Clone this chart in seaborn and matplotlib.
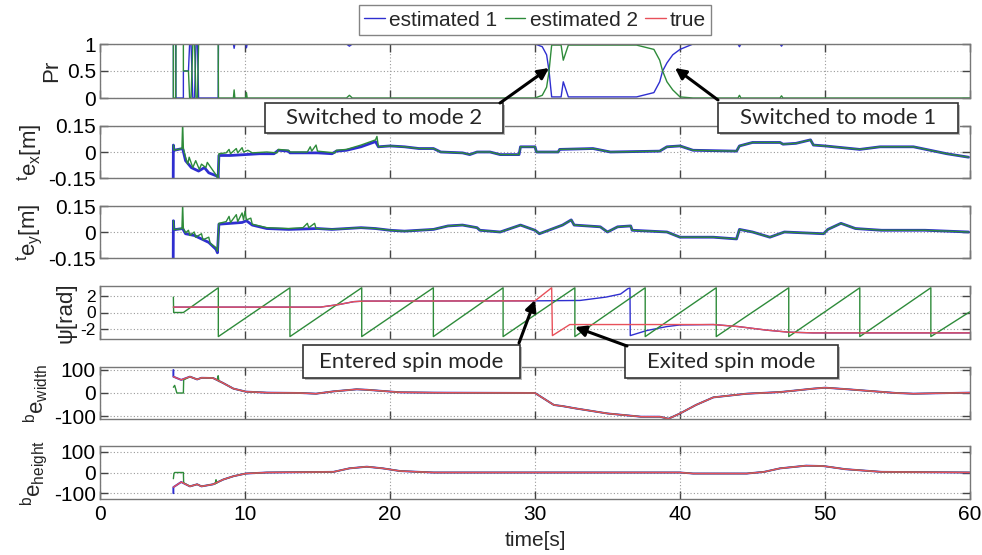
import matplotlib
matplotlib.use("Agg")
import matplotlib.pyplot as plt
from matplotlib.patches import Rectangle, FancyArrowPatch
from matplotlib.lines import Line2D
import seaborn as sns

BLUE = "#2f2fd0"
GREEN = "#2e8b3a"
RED = "#e8505a"

# --- mode probability
pr_t = [5.06, 5.06, 5.22, 5.24, 5.75, 5.75, 6.10, 6.18, 6.28, 6.40, 6.52, 6.62, 6.72, 6.80, 8.15, 8.17,
        9.20, 9.25, 9.30, 10.05, 10.10, 10.15, 17.0, 17.2, 17.4,
        30.0, 30.5, 30.8, 30.97, 31.08, 31.15, 31.8, 31.95, 32.3, 37.0, 38.2, 38.6, 38.8, 39.1, 39.5, 40.0, 40.9,
        44.0, 44.1, 44.2, 46.9, 47.0, 47.1, 60.0]
pr_est1 = [0, 1, 1, 0, 0, 0.5, 0.5, 1, 1, 0, 0, 1, 1, 0, 0, 1,
           1, 0.92, 1, 1, 0.93, 1, 1, 0.96, 1,
           1, 0.95, 0.8, 0.5, 0.2, 0.02, 0.02, 0.3, 0.02, 0.02, 0.1, 0.3, 0.5, 0.65, 0.8, 0.9, 1.0,
           1, 0.95, 1, 1, 0.96, 1, 1]
pr_est2 = [1, 0, 0, 1, 1, 0.5, 0.5, 0, 0, 1, 1, 0, 0, 1, 1, 0,
           0, 0.15, 0, 0, 0.1, 0, 0, 0.05, 0,
           0, 0.05, 0.2, 0.5, 0.8, 0.98, 0.98, 0.7, 0.98, 0.98, 0.9, 0.7, 0.5, 0.3, 0.15, 0.02, 0.0,
           0, 0.05, 0, 0, 0.04, 0, 0]

# --- te_x
tex_early1_t = [5.05, 5.06, 5.1, 5.7, 5.9, 6.3, 6.8, 7.2, 7.5, 8.1, 8.15, 8.2, 9.0, 10.0, 11.0, 12.0,
                12.3, 13.0, 13.1, 15.0, 16.0, 16.3, 17.0, 18.0, 19.0]
tex_early1_v = [-0.15, 0.04, 0.01, 0.02, -0.05, -0.09, -0.11, -0.09, -0.12, -0.14, -0.15, -0.02, -0.02,
                -0.015, -0.01, -0.01, 0.01, 0.005, -0.005, -0.005, -0.01, 0.005, 0.01, 0.03, 0.06]
tex_early2_t = [5.06, 5.1, 5.65, 5.7, 5.75, 5.9, 6.05, 6.15, 6.4, 6.6, 6.85, 7.0, 7.3, 7.4, 7.9, 8.15,
                8.2, 8.7, 8.9, 9.0, 9.4, 9.5, 9.8, 9.9, 10.2, 10.5, 11.5, 12.2, 12.3, 13.0, 13.1, 14.3,
                14.5, 14.6, 14.9, 15.0, 16.2, 16.3, 17.0, 18.0, 19.0, 19.1]
tex_early2_v = [0.04, 0.01, 0.02, 0.17, 0.02, -0.03, -0.07, -0.03, -0.09, -0.05, -0.1, -0.07, -0.09,
                -0.06, -0.12, -0.15, -0.01, -0.005, 0.015, -0.01, 0.02, -0.005, 0.025, 0.0, 0.01,
                -0.005, 0.0, -0.005, 0.015, 0.01, 0.0, 0.0, 0.03, 0.005, 0.04, 0.005, -0.005, 0.01,
                0.015, 0.04, 0.07, 0.09]
tex_late_t = [19.2, 20.0, 21.0, 22.0, 23.0, 23.5, 25.0, 25.5, 26.0, 26.9, 27.6, 28.9, 29.0, 30.0, 30.1,
              31.6, 31.7, 34.0, 35.2, 38.6, 39.1, 40.0, 40.9, 43.9, 44.1, 45.0, 46.9, 47.1, 48.0, 49.0,
              49.2, 50.0, 52.4, 53.8, 56.1, 58.4, 59.9]
tex_late_v = [0.03, 0.035, 0.03, 0.02, 0.02, 0.0, -0.005, -0.015, 0.0, 0.0, -0.015, -0.015, 0.03, 0.03,
              0.0, 0.0, 0.015, 0.02, 0.0, 0.005, 0.03, 0.035, 0.01, 0.005, 0.035, 0.055, 0.055, 0.045,
              0.05, 0.07, 0.04, 0.035, 0.015, 0.03, 0.03, -0.01, -0.03]

# --- te_y
tey_early1_t = [5.05, 5.06, 5.1, 5.7, 5.9, 6.5, 7.0, 7.5, 8.0, 8.1, 8.2, 9.0, 9.8, 10.1, 10.5, 11.5,
                13.0, 15.0]
tey_early1_v = [-0.15, 0.065, 0.013, 0.02, -0.01, -0.02, -0.04, -0.06, -0.1, -0.12, 0.045, 0.05,
                0.055, 0.065, 0.04, 0.02, 0.015, 0.02]
tey_early2_t = [5.06, 5.1, 5.65, 5.7, 5.75, 5.9, 6.1, 6.2, 6.5, 6.6, 7.0, 7.1, 7.5, 7.6, 8.0, 8.1, 8.2,
                8.7, 8.9, 9.0, 9.4, 9.5, 9.8, 9.9, 10.0, 10.1, 10.4, 10.5, 11.5, 13.0, 14.0, 14.3, 14.4,
                14.8, 14.9, 15.0]
tey_early2_v = [0.065, 0.013, 0.02, 0.16, 0.02, -0.005, 0.01, -0.02, 0.0, -0.03, -0.01, -0.045, -0.03,
                -0.065, -0.09, -0.11, 0.05, 0.06, 0.09, 0.055, 0.1, 0.06, 0.11, 0.07, 0.12, 0.07, 0.08,
                0.045, 0.025, 0.02, 0.025, 0.05, 0.025, 0.05, 0.02, 0.02]
tey_late_t = [16.0, 17.0, 18.0, 19.0, 20.0, 21.0, 22.0, 23.0, 24.0, 25.0, 26.0, 26.2, 27.6, 29.0, 30.0,
              30.3, 31.9, 32.5, 32.7, 34.5, 35.0, 35.7, 36.6, 36.7, 39.1, 40.0, 42.3, 43.9, 44.1, 45.0,
              46.2, 47.2, 49.9, 50.2, 51.1, 52.1, 53.9, 56.9, 59.9]
tey_late_v = [0.015, 0.02, 0.025, 0.02, 0.01, 0.005, 0.01, 0.015, 0.035, 0.04, 0.025, 0.01, 0.0, 0.04,
              0.01, -0.01, 0.04, 0.07, 0.04, 0.03, 0.0, 0.03, 0.035, 0.01, 0.0, -0.03, -0.03, -0.04,
              0.015, 0.0, -0.03, 0.0, -0.01, 0.015, 0.05, 0.02, 0.01, 0.01, 0.0]

# --- heading psi
psi_true_t = [5.06, 15.2, 16.5, 17.5, 18.2, 30.0, 31.15, 31.2, 32.4, 42.3, 44.0, 46.0, 47.5, 49.2, 60.0]
psi_true = [0.67, 0.67, 1.0, 1.35, 1.42, 1.45, 3.08, -2.875, -1.5, -1.5, -1.75, -2.2, -2.45, -2.54, -2.54]
psi_est1_t = [5.06, 15.2, 16.5, 17.5, 18.2, 30.0, 33.1, 34.9, 35.9, 36.4, 36.55, 36.57, 37.7, 39.1,
              40.0, 42.3, 44.0, 46.0, 47.5, 49.2, 60.0]
psi_est1 = [0.67, 0.67, 1.0, 1.35, 1.42, 1.45, 1.5, 1.92, 2.3, 2.96, 3.05, -2.875, -2.25, -1.75,
            -1.55, -1.5, -1.75, -2.2, -2.45, -2.54, -2.54]
psi_est2_t = [5.06, 5.08, 5.75, 8.16, 8.16, 13.1, 13.1, 18.05, 18.05, 22.99, 22.99, 27.8, 27.8,
              32.75, 32.75, 37.6, 37.6, 42.5, 42.5, 47.5, 47.5, 52.4, 52.4, 57.3, 57.3, 60.0]
psi_est2 = [1.92, 0.0, 0.0, 3.08, -3.0, 3.08, -3.0, 3.08, -3.0, 3.08, -3.0, 3.08, -3.0,
            3.08, -3.0, 3.08, -3.0, 3.08, -3.0, 3.08, -3.0, 3.08, -3.0, 3.08, -3.0, 0.1]

# --- bbox width error
bw_true_t = [5.06, 5.6, 6.2, 6.7, 7.0, 7.8, 8.5, 9.2, 10.05, 11.5, 13.8, 14.9, 16.1, 17.7, 18.4, 20.7,
             23.0, 30.0, 31.3, 31.9, 32.8, 35.0, 37.3, 38.6, 39.2, 40.0, 41.1, 42.3, 44.6, 46.9, 49.2,
             50.0, 51.4, 54.9, 56.1, 60.0]
bw_true = [71, 57, 71, 59, 66, 65, 43, 19, 6, 1.5, 0, -3, 7, 16, 14, 3, 1.5, 0, -52, -57, -67, -89,
           -103, -103, -112, -89, -52, -19, -3, 4, 19, 23, 17, 0, -3, 1.5]
bw_start1_t = [5.06]
bw_start1 = [100]
bw_start2_t = [5.06, 5.15, 5.3, 5.75, 5.77]
bw_start2 = [25, 33, 0, 0, 57]
bw_spike2_t = [8.1, 8.15, 8.2]
bw_spike2 = [60, 75, 50]

# --- bbox height error
bh_true_t = [5.06, 5.6, 6.2, 6.7, 7.0, 7.8, 8.5, 9.2, 10.05, 11.5, 16.1, 17.2, 18.4, 19.5, 20.7, 23.0,
             40.0, 40.9, 44.6, 45.8, 46.9, 48.7, 49.9, 51.4, 53.9, 60.0]
bh_true = [-71, -46, -67, -57, -67, -57, -34, -18, -5, 0, 3, 20, 28, 20, 7, 0,
           0, -5, -5, 3, 20, 33, 31, 16, 3, 0]
bh_start1_t = [5.06]
bh_start1 = [-100]
bh_start2_t = [5.06, 5.1, 5.15, 5.75, 5.77]
bh_start2 = [-30, -5, 0, 0, -50]
bh_spike2_t = [7.95, 8.0, 8.05]
bh_spike2 = [-55, -35, -52]

sns.set_style("white")
plt.rcParams["font.family"] = ["Liberation Sans", "DejaVu Sans"]
plt.rcParams["mathtext.fontset"] = "custom"
plt.rcParams["mathtext.rm"] = "Liberation Sans"
plt.rcParams["mathtext.it"] = "Liberation Sans"
plt.rcParams["axes.unicode_minus"] = False

W, H = 982, 555
fig = plt.figure(figsize=(W / 100, H / 100), dpi=100)

panels_px = [(44, 98), (126, 178), (206, 258), (286, 339), (367, 419), (446, 499)]
axes = []
for top, bot in panels_px:
    axes.append(fig.add_axes([100 / W, 1 - bot / H, 870 / W, (bot - top) / H]))


def line(ax, t, v, color, lw=1.0):
    sns.lineplot(x=t, y=v, ax=ax, color=color, linewidth=lw, sort=False, estimator=None)


ax = axes[0]
line(ax, pr_t, pr_est1, BLUE)
line(ax, pr_t, pr_est2, GREEN)

ax = axes[1]
line(ax, tex_early1_t + tex_late_t, tex_early1_v + tex_late_v, BLUE, 2.0)
line(ax, tex_early2_t + tex_late_t, tex_early2_v + tex_late_v, GREEN, 1.0)

ax = axes[2]
line(ax, tey_early1_t + tey_late_t, tey_early1_v + tey_late_v, BLUE, 2.0)
line(ax, tey_early2_t + tey_late_t, tey_early2_v + tey_late_v, GREEN, 1.0)

ax = axes[3]
line(ax, psi_est1_t, psi_est1, BLUE)
line(ax, psi_est2_t, psi_est2, GREEN)
line(ax, psi_true_t, psi_true, RED)

ax = axes[4]
line(ax, bw_start1_t + bw_true_t, bw_start1 + bw_true, BLUE, 1.4)
line(ax, bw_start2_t + bw_true_t[2:], bw_start2 + bw_true[2:], GREEN)
line(ax, bw_spike2_t, bw_spike2, GREEN)
line(ax, bw_true_t, bw_true, RED)

ax = axes[5]
line(ax, bh_start1_t + bh_true_t, bh_start1 + bh_true, BLUE, 1.4)
line(ax, bh_start2_t + bh_true_t[2:], bh_start2 + bh_true[2:], GREEN)
line(ax, bh_spike2_t, bh_spike2, GREEN)
line(ax, bh_true_t, bh_true, RED)

ylims = [(0, 1), (-0.15, 0.15), (-0.15, 0.15), (-3.3, 3.3), (-113, 113), (-128, 128)]
yticks = [[0, 0.5, 1], [-0.15, 0, 0.15], [-0.15, 0, 0.15], [-2, 0, 2], [-100, 0, 100], [-100, 0, 100]]
yticklabels = [["0", "0.5", "1"], ["-0.15", "0", "0.15"], ["-0.15", "0", "0.15"],
               ["-2", "0", "2"], ["-100", "0", "100"], ["-100", "0", "100"]]
ylabels = ["Pr", r"$^{t}e_{x}$[m]", r"$^{t}e_{y}$[m]", "ψ[rad]",
           r"$^{b}e_{width}$", r"$^{b}e_{height}$"]
ytick_sizes = [15, 15, 15, 12.5, 15, 15]

for i, ax in enumerate(axes):
    ax.set_xlim(0, 60)
    ax.set_ylim(*ylims[i])
    ax.set_xticks(range(0, 61, 10))
    ax.set_yticks(yticks[i])
    ax.set_yticklabels(yticklabels[i])
    ax.set_axisbelow(True)
    ax.grid(True, linestyle=(0, (1, 2)), color="#9a9a9a", linewidth=0.8)
    ax.tick_params(direction="in", bottom=True, left=True, top=True, right=True, length=6, width=1,
                   color="#444444", labelcolor="black", labelsize=15, pad=4)
    ax.tick_params(axis="y", labelsize=ytick_sizes[i], pad=3)
    for s in ax.spines.values():
        s.set_color("#777777")
        s.set_linewidth(1)
    ax.set_xlabel("")
    ax.set_ylabel(ylabels[i], fontsize=16, labelpad=3)
    if i < len(axes) - 1:
        ax.tick_params(labelbottom=False)

axes[-1].set_xlabel("time[s]", fontsize=15, labelpad=5)

handles = [Line2D([], [], color=BLUE, lw=1), Line2D([], [], color=GREEN, lw=1), Line2D([], [], color=RED, lw=1)]
fig.legend(handles, ["estimated 1", "estimated 2", "true"], loc="center", bbox_to_anchor=(535 / W, 1 - 20 / H),
           ncol=3, fontsize=15, frameon=True, fancybox=False, edgecolor="#666666", handlelength=1.0,
           handletextpad=0.2, columnspacing=0.35, borderpad=0.25, borderaxespad=0)


def fx(px):
    return px / W


def fy(py):
    return 1 - py / H


callouts = [
    ("Switched to mode 2", (265, 103, 503, 133), (500, 103), (549, 68)),
    ("Switched to mode 1", (718, 103, 958, 133), (718, 100), (675, 68)),
    ("Entered spin mode", (303, 345, 520, 378), (519, 343), (535, 300)),
    ("Exited spin mode", (625, 345, 838, 378), (627, 346), (575, 327)),
]
for text, (x0, y0, x1, y1), start, tip in callouts:
    fig.patches.append(Rectangle((fx(x0) + 2 / W, fy(y1) - 2 / H), (x1 - x0) / W, (y1 - y0) / H,
                                 transform=fig.transFigure, facecolor="#bbbbbb", edgecolor="none", zorder=9))
    fig.patches.append(Rectangle((fx(x0), fy(y1)), (x1 - x0) / W, (y1 - y0) / H, transform=fig.transFigure,
                                 facecolor="white", edgecolor="#333333", linewidth=1.2, zorder=10))
    fig.text(fx((x0 + x1) / 2), fy((y0 + y1) / 2), text, ha="center", va="center", fontsize=16,
             family=["Lato", "DejaVu Sans"], zorder=11)
    fig.patches.append(FancyArrowPatch((fx(start[0]), fy(start[1])), (fx(tip[0]), fy(tip[1])),
                                       transform=fig.transFigure, arrowstyle="-|>", mutation_scale=16,
                                       color="black", linewidth=2.2, shrinkA=0, shrinkB=0, zorder=12))

fig.savefig("out.png", dpi=100)
